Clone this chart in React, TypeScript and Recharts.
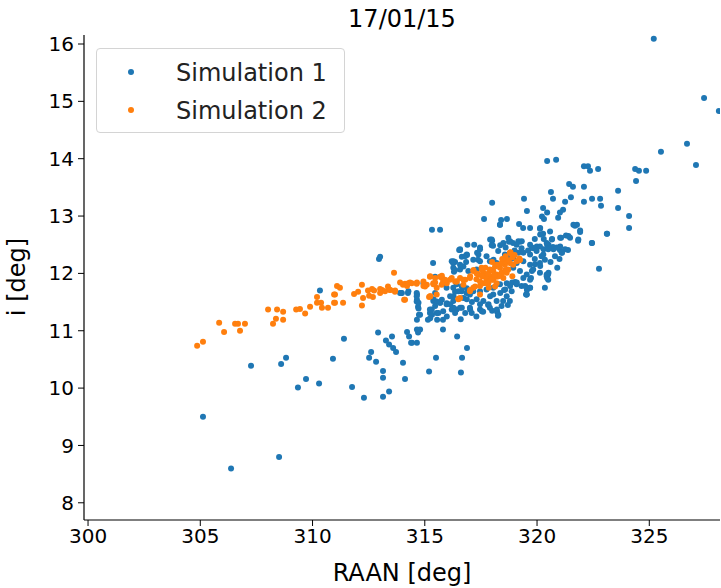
import React from 'react';
import { ScatterChart, Scatter, XAxis, YAxis, Label } from 'recharts';

// RAAN [deg], i [deg] pairs
const sim1Points: [number, number][] = [
  [325.2, 16.09], [327.44, 15.06], [328.1, 14.83], [325.52, 14.12], [326.68, 14.26], [327.08, 13.89],
  [324.37, 13.82], [324.54, 13.79], [324.86, 13.79], [324.41, 13.61], [323.61, 13.44], [323.61, 13.14],
  [324.1, 13.0], [324.1, 12.79], [323.12, 12.69], [322.76, 12.08], [320.45, 13.96], [320.85, 13.98],
  [322.09, 13.87], [322.27, 13.87], [322.36, 13.79], [322.72, 13.82], [321.43, 13.56], [321.6, 13.51],
  [321.51, 13.33], [322.09, 13.51], [320.62, 13.42], [320.71, 13.3], [322.09, 13.25], [322.45, 13.3],
  [322.81, 13.3], [322.85, 13.18], [321.25, 13.25], [321.16, 13.11], [321.02, 13.06], [320.94, 12.97],
  [319.42, 13.3], [318.0, 13.23], [319.55, 13.09], [320.27, 13.14], [320.45, 13.06], [320.22, 12.99],
  [320.31, 12.95], [317.64, 12.95], [318.4, 12.93], [318.66, 12.95], [318.35, 12.85], [319.2, 12.86],
  [319.38, 12.79], [320.13, 12.78], [320.27, 12.69], [321.69, 12.83], [321.78, 12.85], [321.92, 12.72],
  [321.83, 12.57], [321.07, 12.62], [321.29, 12.66], [321.47, 12.62], [322.45, 12.53], [320.67, 12.6],
  [320.45, 12.5], [320.71, 12.46], [321.02, 12.41], [321.11, 12.36], [321.38, 12.41], [318.0, 12.57],
  [318.04, 12.48], [319.24, 12.55], [318.93, 12.53], [318.75, 12.55], [320.49, 11.98], [320.45, 11.92],
  [319.73, 11.92], [319.69, 11.75], [319.55, 11.71], [319.51, 11.63], [319.02, 11.85], [318.89, 11.84],
  [318.53, 11.71], [318.49, 11.52], [318.22, 11.33], [318.26, 11.26], [317.6, 11.33], [317.82, 11.45],
  [316.57, 12.42], [317.46, 12.45], [317.91, 12.59], [317.98, 12.49], [318.36, 12.49], [318.8, 12.56],
  [319.17, 12.56], [319.32, 12.56], [318.73, 12.3], [319.17, 12.36], [320.14, 12.79], [320.14, 12.68],
  [320.66, 12.59], [321.03, 12.62], [321.4, 12.65], [321.84, 12.59], [321.03, 12.47], [321.25, 12.42],
  [321.62, 12.85], [321.92, 12.75], [322.44, 12.53], [323.11, 12.69], [319.77, 12.45], [319.99, 12.47],
  [320.29, 12.42], [320.51, 12.5], [320.73, 12.42], [320.88, 12.45], [321.1, 12.36], [316.28, 12.21],
  [316.57, 12.07], [316.87, 12.33], [317.39, 12.33], [318.06, 12.24], [319.91, 12.16], [320.14, 12.13],
  [319.77, 12.04], [320.43, 11.95], [320.51, 12.01],
  [315.32, 12.76], [315.68, 12.76], [312.96, 12.25], [315.37, 12.18], [316.53, 12.41], [317.33, 12.36],
  [317.37, 12.24], [316.88, 12.32], [316.84, 12.2], [316.35, 12.2], [316.3, 12.03], [315.46, 11.94],
  [313.94, 11.66], [314.25, 11.66], [314.65, 11.63], [314.65, 11.54], [314.7, 11.42], [314.74, 11.28],
  [314.65, 11.19], [314.65, 11.02], [314.79, 11.02], [314.7, 10.97], [314.43, 10.79], [314.65, 10.79],
  [315.23, 11.37], [315.23, 11.31], [315.32, 11.28], [315.55, 11.19], [315.14, 11.19], [315.81, 11.19],
  [315.81, 11.02], [316.44, 10.9], [316.88, 10.7], [315.5, 10.53], [316.66, 10.53], [315.19, 10.29],
  [316.61, 10.27], [312.92, 10.97], [313.54, 10.9], [313.27, 10.83], [313.41, 10.76], [313.59, 10.7],
  [313.72, 10.63], [314.21, 10.98], [314.3, 10.9], [314.39, 10.79], [312.61, 10.63], [312.52, 10.53],
  [312.83, 10.46], [314.03, 10.44], [313.14, 10.3], [313.14, 10.18], [314.12, 10.16], [311.4, 10.86],
  [310.91, 10.51], [311.76, 10.02], [312.29, 9.83], [313.14, 9.85], [313.41, 9.94],
  [310.33, 11.7], [307.26, 10.39], [308.6, 10.42], [308.82, 10.53], [309.35, 10.01], [309.71, 10.16],
  [310.29, 10.08], [305.12, 9.5], [308.51, 8.8], [306.37, 8.6],
  [318.35, 12.85], [319.69, 12.79], [320.58, 12.73], [317.98, 12.59], [318.5, 12.53], [318.72, 12.62],
  [319.09, 12.5], [319.31, 12.44], [319.69, 12.5], [319.83, 12.44], [320.13, 12.47], [320.43, 12.53],
  [317.46, 12.42], [317.75, 12.3], [318.27, 12.39], [318.57, 12.33], [318.79, 12.24], [318.94, 12.27],
  [319.39, 12.36], [319.69, 12.33], [319.98, 12.39], [320.28, 12.33], [320.5, 12.42], [316.79, 12.3],
  [317.16, 12.24], [317.46, 12.21], [317.9, 12.21], [318.2, 12.18], [319.09, 12.18], [319.39, 12.21],
  [319.69, 12.15], [320.13, 12.18], [320.35, 12.24], [316.2, 12.21], [316.27, 12.1], [316.72, 12.12],
  [316.94, 12.04], [317.31, 12.07], [318.94, 12.1], [319.24, 12.04], [319.54, 11.98], [319.83, 12.07],
  [320.13, 12.01], [320.43, 11.98], [320.5, 11.89], [320.35, 11.75], [319.69, 11.89], [319.39, 11.92],
  [315.82, 11.83], [315.97, 11.75], [316.27, 11.75], [316.42, 11.81], [316.64, 11.69], [316.86, 11.66],
  [317.16, 11.69], [317.46, 11.69], [317.75, 11.72], [318.05, 11.75], [318.35, 11.81], [318.65, 11.83],
  [319.09, 11.81], [318.87, 11.69], [318.79, 11.52], [319.31, 11.78], [319.54, 11.63], [315.38, 11.52],
  [315.68, 11.49], [315.97, 11.46], [316.27, 11.52], [316.72, 11.57], [317.01, 11.63], [317.31, 11.55],
  [317.61, 11.52], [318.05, 11.63], [318.2, 11.52], [318.42, 11.43], [317.9, 11.4], [317.46, 11.37],
  [317.01, 11.4], [316.42, 11.37], [315.82, 11.34], [315.53, 11.31],
  [313.01, 12.29], [314.94, 11.83], [314.27, 11.69], [313.98, 11.66], [314.64, 11.66], [314.64, 11.51],
  [314.72, 11.39], [314.79, 11.28], [315.31, 11.37], [315.24, 11.22], [315.46, 11.66], [315.53, 11.51],
  [315.76, 11.54], [315.98, 11.48], [316.13, 11.6], [316.35, 11.68], [316.65, 11.77], [316.87, 11.74],
  [315.61, 11.31], [315.98, 11.25], [316.2, 11.37], [316.57, 11.4], [316.8, 11.31], [316.35, 12.06],
  [316.57, 12.15], [316.65, 12.29], [316.57, 12.41],
  [313.9, 11.66], [314.64, 11.6], [314.72, 11.49], [315.39, 11.55], [315.46, 11.43], [315.68, 11.49],
  [316.13, 11.46], [316.28, 11.4], [316.35, 11.31], [316.28, 11.6], [316.5, 11.69], [316.65, 11.4],
  [316.87, 11.55], [317.02, 11.37], [317.09, 11.31], [317.46, 11.46], [317.54, 11.34], [317.84, 11.46],
  [318.21, 11.37], [318.28, 11.28], [317.91, 11.6], [318.36, 11.66], [318.58, 11.72], [318.65, 11.6],
  [318.8, 11.78], [319.1, 11.84], [319.54, 11.63], [319.47, 11.78], [319.69, 11.75], [316.26, 12.18],
  [319.9, 12.25], [320.2, 12.3], [320.6, 12.2], [320.8, 12.3], [321.0, 12.25], [320.9, 12.1],
  [319.6, 12.4], [319.0, 12.4], [318.6, 12.45], [317.2, 12.5], [316.9, 12.5], [320.3, 12.6],
  [319.9, 12.6], [317.1, 11.5], [316.6, 11.2], [317.3, 11.25], [318.0, 11.35], [318.7, 11.45],
];

const sim2Points: [number, number][] = [
  [304.86, 10.74], [305.12, 10.81], [305.84, 11.14], [306.06, 10.98], [306.55, 11.12], [306.68, 11.12],
  [306.99, 11.12], [306.77, 11.0], [308.02, 11.37], [308.42, 11.37], [308.69, 11.33], [308.37, 11.21],
  [308.24, 11.12], [308.69, 11.19], [309.27, 11.37], [309.44, 11.38], [309.67, 11.3], [309.89, 11.42],
  [310.2, 11.49], [310.2, 11.59], [310.38, 11.49], [310.42, 11.4], [310.69, 11.4], [310.96, 11.63],
  [310.96, 11.49], [311.09, 11.78], [311.22, 11.75], [311.0, 11.63], [311.0, 11.49], [311.36, 11.49],
  [312.2, 11.8], [311.85, 11.64], [312.03, 11.68], [312.2, 11.44], [312.25, 11.57],
  [312.47, 11.7], [312.65, 11.73], [312.74, 11.7], [312.52, 11.61], [312.69, 11.59], [313.01, 11.66],
  [313.1, 11.71], [313.36, 11.77], [313.45, 11.71], [313.63, 12.01], [313.67, 11.68],
  [313.9, 11.84], [314.03, 11.8], [314.12, 11.82], [314.21, 11.78], [314.34, 11.84], [314.08, 11.54],
  [314.65, 11.84], [315.01, 11.77], [315.23, 11.94], [315.19, 11.59], [315.46, 11.84], [315.68, 11.94],
  [315.77, 11.92], [313.01, 11.73], [313.23, 11.69], [313.46, 11.71], [313.68, 11.7], [314.27, 11.83],
  [314.42, 11.83], [314.64, 11.82], [314.12, 11.54], [315.24, 11.95], [315.46, 11.92], [315.76, 11.96],
  [315.98, 11.83], [316.2, 11.92], [316.35, 11.86], [316.57, 11.92], [316.8, 11.89], [317.02, 11.95],
  [316.5, 11.55], [314.94, 11.78], [315.24, 11.6], [318.82, 12.37], [319.22, 12.24],
  [315.38, 11.81], [315.53, 11.75], [315.82, 11.86], [316.12, 11.89], [316.42, 11.86], [316.72, 11.89],
  [317.01, 11.92], [317.16, 12.04], [317.38, 11.98], [317.61, 12.01], [317.75, 11.89], [317.9, 11.95],
  [318.05, 12.04], [318.2, 11.98], [318.35, 12.1], [318.42, 12.01], [318.5, 11.92], [318.57, 12.15],
  [318.72, 12.07], [318.79, 12.18], [318.94, 12.15], [319.09, 12.21], [319.24, 12.24], [318.79, 12.36],
  [319.21, 12.26], [317.01, 11.69], [317.16, 11.75], [317.46, 11.78], [317.61, 11.83], [317.83, 11.83],
  [318.05, 11.89], [318.2, 11.83], [317.9, 12.07], [317.53, 12.1], [318.2, 12.15], [318.65, 12.01],
  [316.57, 11.57], [317.46, 11.63], [315.53, 11.63],
  [317.17, 12.06], [317.31, 12.0], [317.54, 12.06], [317.69, 11.94], [317.83, 12.0], [317.98, 12.06],
  [318.13, 12.12], [318.28, 12.15], [318.43, 12.18], [318.58, 12.21], [318.73, 12.23], [318.8, 12.36],
  [319.22, 12.23], [317.98, 11.89], [318.21, 11.94], [318.43, 12.0], [318.58, 12.06], [317.76, 11.83],
  [317.46, 11.86], [317.24, 11.77], [317.02, 11.71], [318.13, 11.77], [316.42, 11.86], [316.72, 11.8],
  [315.9, 11.89], [315.75, 11.8], [315.38, 11.83], [315.09, 11.8], [314.94, 11.86], [315.24, 11.6],
  [316.5, 11.56],
  [317.3, 11.9], [317.7, 12.1], [318.0, 12.2], [318.3, 11.95], [318.6, 12.3], [318.9, 12.28],
  [319.0, 12.32], [318.1, 11.97], [317.85, 11.75], [317.55, 11.95], [318.45, 12.25], [318.9, 11.95],
];

const xTicks = [300, 305, 310, 315, 320, 325];
const yTicks = [8, 9, 10, 11, 12, 13, 14, 15, 16];

const BLUE = '#1f77b4';
const ORANGE = '#ff7f0e';
const FONT = '"DejaVu Sans", sans-serif';

const sim1Data = sim1Points.map(([x, y]) => ({ x, y }));
const sim2Data = sim2Points.map(([x, y]) => ({ x, y }));

const dot = (color: string) => (props: any) => (
  <circle cx={props.cx} cy={props.cy} r={3} fill={color} />
);

// fixed to the viewport so chart coords equal page coords and no scrollbars appear
const App = () => {
  return (
    <div
      style={{
        position: 'fixed', left: 0, top: 0, width: 721, height: 588, overflow: 'hidden',
        background: '#fff', fontFamily: FONT,
      }}
    >
      <div
        style={{
          position: 'absolute', left: 302, top: 5, width: 200, textAlign: 'center',
          fontSize: 24, lineHeight: '28px', color: '#000',
        }}
      >
        17/01/15
      </div>
      <ScatterChart width={721} height={588} margin={{ top: 35, right: 1, bottom: 0, left: 0 }}>
        <XAxis
          type="number"
          dataKey="x"
          domain={[299.82, 328.15]}
          ticks={xTicks}
          interval={0}
          allowDataOverflow
          height={68}
          tickSize={6}
          tickMargin={3}
          axisLine={{ stroke: '#000', strokeWidth: 1.2 }}
          tickLine={{ stroke: '#000' }}
          tick={{ fill: '#000', fontSize: 20, fontFamily: FONT }}
        >
          <Label
            content={() => (
              <text x={402} y={573} textAnchor="middle" dominantBaseline="central"
                fontSize={24} fontFamily={FONT} fill="#000">
                RAAN [deg]
              </text>
            )}
          />
        </XAxis>
        <YAxis
          type="number"
          dataKey="y"
          domain={[7.7, 16.157]}
          ticks={yTicks}
          interval={0}
          allowDataOverflow
          width={84}
          tickSize={6}
          tickMargin={4}
          axisLine={{ stroke: '#000', strokeWidth: 1.2 }}
          tickLine={{ stroke: '#000' }}
          tick={{ fill: '#000', fontSize: 20, fontFamily: FONT }}
        >
          <Label
            content={() => (
              <text x={17} y={277} transform="rotate(-90 17 277)" textAnchor="middle"
                dominantBaseline="central" fontSize={24} fontFamily={FONT} fill="#000">
                i [deg]
              </text>
            )}
          />
        </YAxis>
        <Scatter name="Simulation 1" data={sim1Data} fill={BLUE} shape={dot(BLUE)} isAnimationActive={false} />
        <Scatter name="Simulation 2" data={sim2Data} fill={ORANGE} shape={dot(ORANGE)} isAnimationActive={false} />
      </ScatterChart>
      <div
        style={{
          position: 'absolute', left: 96, top: 48, width: 249, height: 85, boxSizing: 'border-box',
          border: '1px solid #d4d4d4', borderRadius: 4, background: 'rgba(255,255,255,0.8)',
        }}
      >
        {[
          { label: 'Simulation 1', color: BLUE, cy: 24 },
          { label: 'Simulation 2', color: ORANGE, cy: 62 },
        ].map((item) => (
          <div key={item.label}>
            <div
              style={{
                position: 'absolute', left: 31, top: item.cy - 4, width: 6, height: 6,
                borderRadius: 3, background: item.color,
              }}
            />
            <div
              style={{
                position: 'absolute', left: 79, top: item.cy - 14, fontSize: 24,
                lineHeight: '28px', color: '#222', whiteSpace: 'nowrap',
              }}
            >
              {item.label}
            </div>
          </div>
        ))}
      </div>
    </div>
  );
};

export default App;
